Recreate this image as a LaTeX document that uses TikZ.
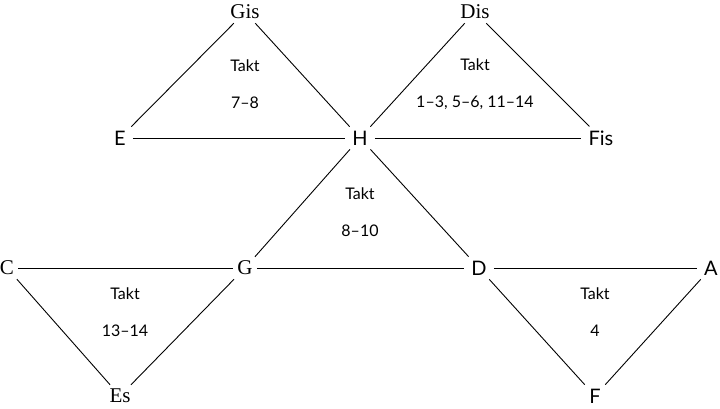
\documentclass[tikz,border=0pt]{standalone}
\usepackage{fontspec}
\setmainfont{Liberation Serif}
\newfontfamily\sansf{Lato}
\begin{document}
\begin{tikzpicture}[x=1pt,y=-1pt,
  sernode/.style={inner sep=4pt,font=\fontsize{21}{22}\selectfont},
  sannode/.style={inner xsep=7pt,inner ysep=4pt,font=\sansf\fontsize{20}{22}\selectfont},
  takt/.style={align=center,inner sep=0pt,font=\sansf\fontsize{16}{37}\selectfont},
  edge/.style={draw,line width=0.9pt}]
\useasboundingbox (0,0) rectangle (720,408);
\node[sernode] (Gis) at (245,12) {Gis};
\node[sernode] (Dis) at (475,12) {Dis};
\node[sannode] (E) at (120,138) {E};
\node[sannode] (H) at (360,138) {H};
\node[sannode] (Fis) at (601,138) {Fis};
\node[sernode] (C) at (7,268) {C};
\node[sernode] (G) at (245,268) {G};
\node[sannode] (D) at (479,268) {D};
\node[sannode] (A) at (711,268) {A};
\node[sernode] (Es) at (120,396) {Es};
\node[sannode] (F) at (595,396) {F};
\node[takt] (t1) at (245,84) {Takt\\7–8};
\node[takt] (t2) at (475,84) {Takt\\1–3, 5–6, 11–14};
\node[takt] (t3) at (360,212) {Takt\\8–10};
\node[takt] (t4) at (125,312) {Takt\\13–14};
\node[takt] (t5) at (595,312) {Takt\\4};
\path[edge] (E) -- (Gis);
\path[edge] (Gis) -- (H);
\path[edge] (E) -- (H);
\path[edge] (H) -- (Dis);
\path[edge] (Dis) -- (Fis);
\path[edge] (H) -- (Fis);
\path[edge] (H) -- (G);
\path[edge] (H) -- (D);
\path[edge] (C) -- (G);
\path[edge] (G) -- (D);
\path[edge] (D) -- (A);
\path[edge] (C) -- (Es);
\path[edge] (Es) -- (G);
\path[edge] (D) -- (F);
\path[edge] (F) -- (A);
\end{tikzpicture}
\end{document}
